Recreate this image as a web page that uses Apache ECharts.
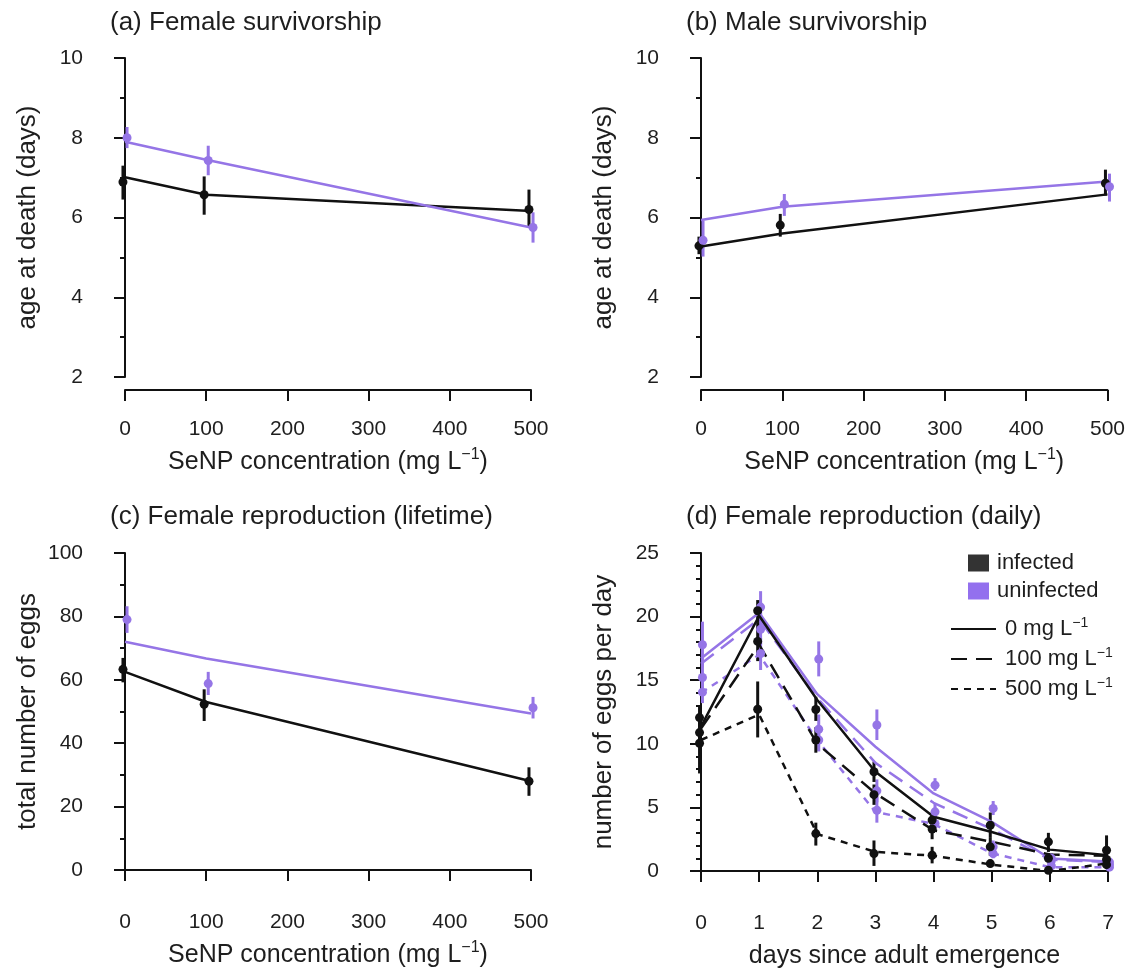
<!DOCTYPE html>
<html><head><meta charset="utf-8">
<script src="https://cdn.jsdelivr.net/npm/echarts/dist/echarts.min.js"></script>
<style>html,body{margin:0;padding:0;background:#fff}#c{width:1128px;height:974px}</style>
</head><body><div id="c"></div>
<script>
// ---------- data ----------
const conc = [0, 100, 500];
const days = [0, 1, 2, 3, 4, 5, 6, 7];

// (a) female survivorship (age at death, days)
const aInfMean = [6.89, 6.57, 6.20];
const aInfLo   = [6.45, 6.07, 5.76];
const aInfHi   = [7.30, 7.03, 6.70];
const aInfFit  = [7.01, 6.57, 6.16];
const aUnMean  = [8.00, 7.43, 5.75];
const aUnLo    = [7.74, 7.06, 5.37];
const aUnHi    = [8.27, 7.80, 6.13];
const aUnFit   = [7.90, 7.45, 5.75];

// (b) male survivorship
const bInfMean = [5.29, 5.81, 6.86];
const bInfLo   = [5.08, 5.52, 6.55];
const bInfHi   = [5.52, 6.09, 7.20];
const bInfFit  = [5.27, 5.60, 6.58];
const bUnMean  = [5.43, 6.33, 6.77];
const bUnLo    = [5.02, 6.04, 6.40];
const bUnHi    = [5.92, 6.59, 7.10];
const bUnFit   = [5.94, 6.27, 6.90];

// (c) female lifetime reproduction (total eggs)
const cInfMean = [63.3, 52.3, 28.0];
const cInfLo   = [59.2, 47.0, 23.4];
const cInfHi   = [66.9, 57.0, 32.4];
const cInfFit  = [62.5, 53.0, 28.0];
const cUnMean  = [79.0, 58.8, 51.2];
const cUnLo    = [74.8, 55.2, 47.8];
const cUnHi    = [83.2, 62.5, 54.6];
const cUnFit   = [72.0, 66.7, 49.4];

// (d) female daily reproduction (eggs per day)
const dInf0Mean   = [12.06, 20.46, 12.70, 7.80, 4.00, 3.60, 2.29, 1.63];
const dInf0Lo     = [11.20, 19.50, 11.80, 7.00, 3.50, 2.60, 1.50, 0.70];
const dInf0Hi     = [13.00, 21.30, 13.70, 8.60, 4.60, 4.60, 3.00, 2.80];
const dInf0Fit    = [11.35, 20.07, 13.45, 7.80, 4.26, 3.07, 1.68, 1.24];
const dInf100Mean = [10.88, 18.05, 10.30, 6.00, 3.30, 1.90, 1.00, 0.90];
const dInf100Lo   = [10.00, 16.50, 9.30, 5.20, 2.50, 1.20, 0.60, 0.50];
const dInf100Hi   = [11.80, 19.50, 11.30, 6.80, 4.10, 2.60, 1.40, 1.30];
const dInf100Fit  = [11.20, 17.80, 10.00, 6.10, 3.20, 2.30, 1.30, 1.20];
const dInf500Mean = [10.04, 12.72, 2.94, 1.37, 1.24, 0.58, 0.05, 0.50];
const dInf500Lo   = [7.67, 10.50, 2.00, 0.40, 0.60, 0.30, 0.00, 0.20];
const dInf500Hi   = [12.30, 14.90, 3.80, 2.40, 1.90, 0.90, 0.30, 0.80];
const dInf500Fit  = [10.30, 12.30, 2.90, 1.50, 1.20, 0.50, 0.00, 0.60];
const dUn0Mean    = [17.79, 20.75, 16.66, 11.48, 6.75, 4.92, 1.00, 0.70];
const dUn0Lo      = [16.00, 19.60, 15.30, 10.30, 6.30, 4.40, 0.60, 0.40];
const dUn0Hi      = [19.60, 22.00, 18.05, 12.70, 7.30, 5.50, 1.40, 1.00];
const dUn0Fit     = [16.70, 20.30, 13.90, 9.77, 6.10, 3.86, 0.98, 0.75];
const dUn100Mean  = [15.21, 19.00, 11.14, 6.30, 4.65, 1.90, 0.80, 0.50];
const dUn100Lo    = [14.00, 17.80, 10.00, 5.40, 4.00, 1.40, 0.40, 0.20];
const dUn100Hi    = [16.50, 20.30, 12.30, 7.20, 5.30, 2.40, 1.20, 0.80];
const dUn100Fit   = [16.30, 19.80, 13.60, 8.50, 5.36, 3.30, 0.90, 0.70];
const dUn500Mean  = [14.06, 17.10, 10.30, 4.78, 3.73, 1.37, 0.40, 0.30];
const dUn500Lo    = [13.20, 15.80, 9.40, 3.80, 3.20, 1.00, 0.10, 0.10];
const dUn500Hi    = [15.00, 18.30, 11.20, 5.80, 4.30, 1.80, 0.70, 0.60];
const dUn500Fit   = [14.00, 17.00, 10.30, 4.65, 3.70, 1.40, 0.30, 0.30];

// tick labels / texts
const titles = ['(a) Female survivorship', '(b) Male survivorship',
                '(c) Female reproduction (lifetime)', '(d) Female reproduction (daily)'];
const legendGroups = ['infected', 'uninfected'];
const legendConc = ['0 mg L', '100 mg L', '500 mg L'];

// ---------- style ----------
const FONT = 'Liberation Sans, Arial, Helvetica, sans-serif';
const BLACK = '#111111';
const PURPLE = '#9575e6';
const TXT = '#1e1e1e';
const LONG = [16, 9];
const SHORT = [7, 6];

const chart = echarts.init(document.getElementById('c'), null, {renderer: 'canvas'});

function errSeries(gi, xs, lo, hi, jit, color) {
  return {
    type: 'custom', xAxisIndex: gi, yAxisIndex: gi, silent: true, clip: false,
    encode: {x: 0, y: [1, 2]},
    data: xs.map((x, i) => [x + jit, lo[i], hi[i]]),
    renderItem: (params, api) => {
      const p1 = api.coord([api.value(0), api.value(1)]);
      const p2 = api.coord([api.value(0), api.value(2)]);
      return {type: 'line', shape: {x1: p1[0], y1: p1[1], x2: p2[0], y2: p2[1]},
              style: {stroke: color, lineWidth: 3}};
    },
    z: 2
  };
}
function fitSeries(gi, xs, fit, color, dash, name) {
  return {
    type: 'line', name: name, xAxisIndex: gi, yAxisIndex: gi, silent: true,
    symbol: 'none', clip: false,
    data: xs.map((x, i) => [x, fit[i]]),
    lineStyle: {color: color, width: 2.5, type: dash},
    itemStyle: {color: color},
    z: 3
  };
}
function ptSeries(gi, xs, mean, jit, color, name) {
  return {
    type: 'scatter', name: name, xAxisIndex: gi, yAxisIndex: gi, silent: true,
    symbol: 'circle', symbolSize: 9, clip: false,
    data: xs.map((x, i) => [x + jit, mean[i]]),
    itemStyle: {color: color, opacity: 1},
    z: 4
  };
}

const series = [];
function addPanel(gi, xs, groups) {
  groups.forEach(g => series.push(errSeries(gi, xs, g.lo, g.hi, g.jit, g.color)));
  groups.forEach(g => series.push(fitSeries(gi, xs, g.fit, g.color, g.dash, g.lname)));
  groups.forEach(g => series.push(ptSeries(gi, xs, g.mean, g.jit, g.color, g.pname)));
}
const JC = 2.5, JD = 0.025;
addPanel(0, conc, [
  {mean: aInfMean, lo: aInfLo, hi: aInfHi, fit: aInfFit, color: BLACK, dash: 'solid', jit: -JC},
  {mean: aUnMean, lo: aUnLo, hi: aUnHi, fit: aUnFit, color: PURPLE, dash: 'solid', jit: JC}]);
addPanel(1, conc, [
  {mean: bInfMean, lo: bInfLo, hi: bInfHi, fit: bInfFit, color: BLACK, dash: 'solid', jit: -JC},
  {mean: bUnMean, lo: bUnLo, hi: bUnHi, fit: bUnFit, color: PURPLE, dash: 'solid', jit: JC}]);
addPanel(2, conc, [
  {mean: cInfMean, lo: cInfLo, hi: cInfHi, fit: cInfFit, color: BLACK, dash: 'solid', jit: -JC},
  {mean: cUnMean, lo: cUnLo, hi: cUnHi, fit: cUnFit, color: PURPLE, dash: 'solid', jit: JC}]);
addPanel(3, days, [
  {mean: dUn0Mean, lo: dUn0Lo, hi: dUn0Hi, fit: dUn0Fit, color: PURPLE, dash: 'solid', jit: JD, lname: 'u0', pname: 'uninfected'},
  {mean: dUn100Mean, lo: dUn100Lo, hi: dUn100Hi, fit: dUn100Fit, color: PURPLE, dash: LONG, jit: JD, lname: 'u100', pname: 'uninfected'},
  {mean: dUn500Mean, lo: dUn500Lo, hi: dUn500Hi, fit: dUn500Fit, color: PURPLE, dash: SHORT, jit: JD, lname: 'u500', pname: 'uninfected'},
  {mean: dInf0Mean, lo: dInf0Lo, hi: dInf0Hi, fit: dInf0Fit, color: BLACK, dash: 'solid', jit: -JD, lname: legendConc[0], pname: 'infected'},
  {mean: dInf100Mean, lo: dInf100Lo, hi: dInf100Hi, fit: dInf100Fit, color: BLACK, dash: LONG, jit: -JD, lname: legendConc[1], pname: 'infected'},
  {mean: dInf500Mean, lo: dInf500Lo, hi: dInf500Hi, fit: dInf500Fit, color: BLACK, dash: SHORT, jit: -JD, lname: legendConc[2], pname: 'infected'}]);

const rich = {
  a: {fontSize: 25, fontFamily: FONT, color: TXT, lineHeight: 30},
  s: {fontSize: 16, fontFamily: FONT, color: TXT, lineHeight: 16, verticalAlign: 'top'}
};
const xName = '{a|SeNP concentration (mg L}{s|\u22121}{a|)}';

function xAxis(gi, min, max, interval, name) {
  return {
    type: 'value', gridIndex: gi, min: min, max: max, interval: interval,
    offset: 13, position: 'bottom',
    name: name, nameLocation: 'middle', nameGap: 57,
    nameTextStyle: {fontSize: 25, fontFamily: FONT, color: TXT, lineHeight: 30, rich: rich},
    axisLine: {show: true, lineStyle: {color: BLACK, width: 2}},
    axisTick: {show: true, length: 11, lineStyle: {color: BLACK, width: 2}},
    splitLine: {show: false},
    axisLabel: {fontSize: 21, fontFamily: FONT, color: TXT, margin: 29}
  };
}
function yAxis(gi, min, max, interval, minorSplit, name) {
  return {
    type: 'value', gridIndex: gi, min: min, max: max, interval: interval,
    offset: 17, position: 'left',
    name: name, nameLocation: 'middle', nameGap: 67, nameRotate: 90,
    nameTextStyle: {fontSize: 26, fontFamily: FONT, color: TXT},
    axisLine: {show: true, lineStyle: {color: BLACK, width: 2}},
    axisTick: {show: true, length: 11, lineStyle: {color: BLACK, width: 2}},
    minorTick: {show: true, splitNumber: minorSplit, length: 5, lineStyle: {color: BLACK, width: 2}},
    splitLine: {show: false}, minorSplitLine: {show: false},
    axisLabel: {fontSize: 21, fontFamily: FONT, color: TXT, margin: 25}
  };
}

const titleStyle = {fontSize: 26, fontWeight: 'normal', fontFamily: FONT, color: TXT};

const option = {
  animation: false,
  backgroundColor: '#ffffff',
  title: [
    {text: titles[0], left: 110, top: 10, textStyle: titleStyle, padding: 0},
    {text: titles[1], left: 686, top: 10, textStyle: titleStyle, padding: 0},
    {text: titles[2], left: 110, top: 504, textStyle: titleStyle, padding: 0},
    {text: titles[3], left: 686, top: 504, textStyle: titleStyle, padding: 0}
  ],
  grid: [
    {left: 125, top: 58, width: 406, height: 319},
    {left: 701, top: 58, width: 407, height: 319},
    {left: 125, top: 553, width: 406, height: 317},
    {left: 701, top: 553, width: 407, height: 318}
  ],
  xAxis: [
    xAxis(0, 0, 500, 100, xName),
    xAxis(1, 0, 500, 100, xName),
    xAxis(2, 0, 500, 100, xName),
    xAxis(3, 0, 7, 1, 'days since adult emergence')
  ],
  yAxis: [
    yAxis(0, 2, 10, 2, 2, 'age at death (days)'),
    yAxis(1, 2, 10, 2, 2, 'age at death (days)'),
    yAxis(2, 0, 100, 20, 2, 'total number of eggs'),
    yAxis(3, 0, 25, 5, 5, 'number of eggs per day')
  ],
  legend: [
    {
      orient: 'vertical', left: 968, top: 551, padding: 0,
      icon: 'rect', itemWidth: 21, itemHeight: 17, itemGap: 4,
      selectedMode: false,
      data: [{name: legendGroups[0], itemStyle: {color: '#333333'}},
             {name: legendGroups[1], itemStyle: {color: '#9370ee'}}],
      textStyle: {fontSize: 22, fontFamily: FONT, color: TXT, lineHeight: 24, padding: [0, 0, 0, 3]}
    },
    {
      orient: 'vertical', left: 950, top: 616, padding: 0,
      itemWidth: 45, itemHeight: 14, itemGap: 6,
      selectedMode: false,
      itemStyle: {opacity: 0},
      lineStyle: {opacity: 1},
      data: legendConc,
      formatter: n => '{a|' + n + '}{s|\u22121}',
      textStyle: {fontFamily: FONT, color: TXT, padding: [0, 0, 0, 4],
        rich: {a: {fontSize: 22, fontFamily: FONT, color: TXT, lineHeight: 26},
               s: {fontSize: 14, fontFamily: FONT, color: TXT, lineHeight: 14, verticalAlign: 'top'}}}
    }
  ],
  series: series
};
chart.setOption(option);
</script>
</body></html>
